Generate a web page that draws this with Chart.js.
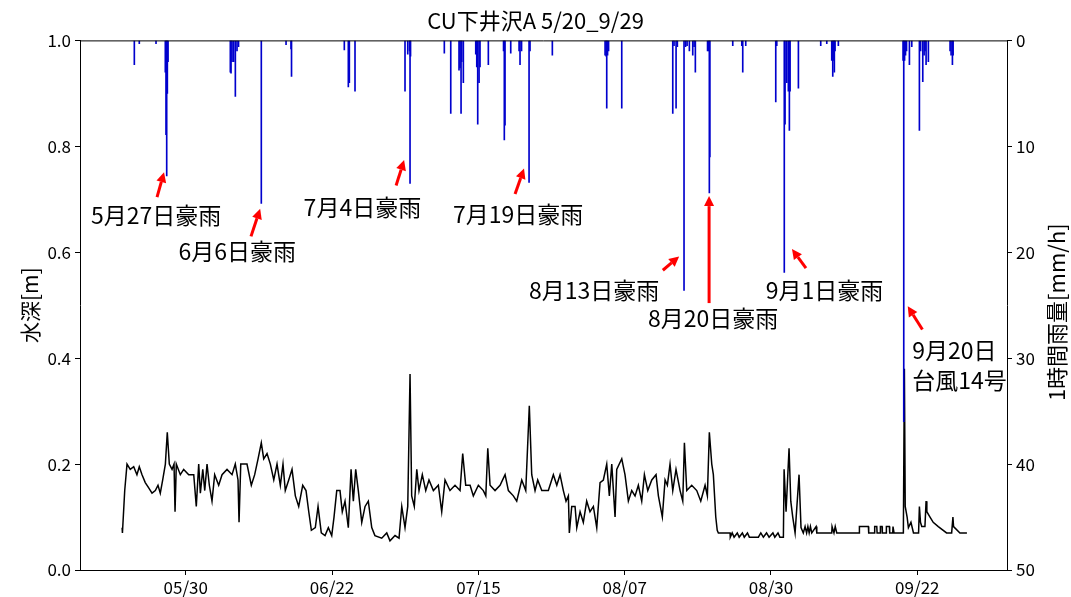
<!DOCTYPE html>
<html>
<head>
<meta charset="utf-8">
<script src="https://cdn.jsdelivr.net/npm/chart.js@4.4.0/dist/chart.umd.min.js"></script>
<style>
  body { margin: 0; background: #fff; }
  #wrap { width: 1071px; height: 597px; }
</style>
</head>
<body>
<div id="wrap"><canvas id="chart" width="1071" height="597"></canvas></div>
<script>
// days counted from 5/20 00:00
var tickDays = [10, 33, 56, 79, 102, 125];
var tickLabels = ['05/30', '06/22', '07/15', '08/07', '08/30', '09/22'];

// water depth [m]
var levelDays = [
    0.0, 0.05, 0.41, 0.77, 1.28, 1.82, 2.33, 2.7, 3.13, 3.64, 4.18, 4.7, 5.22, 5.64, 6.0, 6.38, 6.8, 7.1, 7.42, 7.85,
    8.16, 8.32, 8.52, 9.15, 9.68, 10.47, 11.26, 11.66, 12.04, 12.3, 12.68, 12.99, 13.35, 13.71, 14.13, 14.55, 15.18, 15.71, 16.49, 17.28,
    17.79, 18.22, 18.38, 18.65, 19.63, 20.31, 20.84, 21.37, 21.88, 22.26, 22.78, 23.3, 23.84, 24.35, 24.87, 25.29, 25.65, 26.19, 26.71, 27.23,
    27.76, 28.39, 28.91, 29.34, 29.75, 30.37, 30.8, 31.31,
    31.9, 32.42, 32.95, 33.31, 33.74, 34.25, 34.61, 35.04, 35.56, 35.99, 36.35, 36.72, 37.13, 37.67, 38.19, 38.7, 39.24, 39.74, 40.81, 41.6,
    42.11, 42.9, 43.53, 43.96, 44.47, 44.9, 45.26, 45.52, 45.93, 46.32, 46.67, 47.19, 47.73, 48.24, 48.93, 49.71, 50.24, 50.76, 51.54, 52.33,
    53.12, 53.54, 54.01, 54.7, 55.21, 56.0, 56.78, 57.17, 57.48, 57.84, 58.62, 59.41, 60.2, 60.72, 61.5, 62.03, 62.82, 63.45, 64.01, 64.39,
    64.91, 65.33, 65.97, 67.0,
    67.79, 68.33, 68.84, 69.36, 69.78, 70.15, 70.3, 70.68, 71.2, 71.47, 71.99, 72.5, 73.03, 73.55, 74.08, 74.61, 75.13, 75.65, 76.18, 76.59,
    76.97, 77.49, 77.75, 78.54, 79.05, 79.58, 80.11, 80.63, 81.15, 81.68, 82.1, 82.63, 83.26, 83.93, 84.3, 84.92, 85.35, 85.71, 86.13, 86.56,
    87.07, 87.71, 88.13, 88.39, 88.76, 89.54, 90.33, 90.96, 91.64, 92.0, 92.31, 92.69, 92.94, 93.32, 93.55, 93.73, 95.57, 95.6, 95.9, 96.2,
    96.7, 97.0, 97.5, 97.8, 98.3, 98.6, 100.02, 100.4, 100.8, 101.3, 101.7, 102.3, 102.6, 103.1, 103.4, 103.95,
    104.06, 104.37, 104.84, 105.11, 105.42, 105.79, 106.41, 106.72, 107.08, 107.36, 107.6, 107.8, 108.0, 108.2, 108.41, 109.09, 109.2, 111.55, 111.6, 111.9,
    112.1, 112.34, 115.85, 115.9, 117.31, 117.36, 118.25, 118.3, 118.63, 118.68, 119.15, 119.2, 119.46, 119.5, 120.09, 120.14, 120.61, 120.66, 121.14, 121.18,
    121.3, 121.34, 122.81, 122.97, 123.1, 123.4, 123.6, 124.0, 124.4, 125.2, 125.33, 125.5, 125.7, 126.2, 126.38, 126.5, 127.0, 127.5, 128.3, 129.6,
    130.4, 130.6, 130.7, 131.7, 132.8
];
var levelValues = [
    0.08, 0.07, 0.15, 0.20, 0.19, 0.195, 0.18, 0.195, 0.18, 0.165, 0.155, 0.145, 0.15, 0.16, 0.145, 0.17, 0.2, 0.26, 0.2, 0.19,
    0.2, 0.11, 0.2, 0.18, 0.19, 0.18, 0.18, 0.12, 0.2, 0.145, 0.19, 0.15, 0.2, 0.16, 0.13, 0.18, 0.16, 0.18, 0.19, 0.18,
    0.2, 0.17, 0.09, 0.2, 0.2, 0.16, 0.18, 0.21, 0.24, 0.21, 0.22, 0.2, 0.17, 0.2, 0.16, 0.2, 0.15, 0.17, 0.19, 0.14,
    0.12, 0.16, 0.15, 0.11, 0.075, 0.08, 0.12, 0.07,
    0.065, 0.08, 0.065, 0.1, 0.15, 0.15, 0.11, 0.13, 0.08, 0.19, 0.13, 0.19, 0.15, 0.09, 0.12, 0.13, 0.08, 0.065, 0.06, 0.07,
    0.055, 0.065, 0.06, 0.12, 0.08, 0.12, 0.37, 0.14, 0.12, 0.19, 0.15, 0.18, 0.15, 0.17, 0.15, 0.16, 0.11, 0.17, 0.15, 0.16,
    0.15, 0.22, 0.16, 0.16, 0.14, 0.16, 0.15, 0.14, 0.23, 0.16, 0.15, 0.16, 0.18, 0.15, 0.14, 0.13, 0.17, 0.15, 0.31, 0.18,
    0.15, 0.17, 0.15, 0.15,
    0.18, 0.16, 0.18, 0.15, 0.13, 0.14, 0.07, 0.12, 0.12, 0.08, 0.11, 0.09, 0.13, 0.11, 0.12, 0.08, 0.165, 0.17, 0.2, 0.14,
    0.2, 0.1, 0.19, 0.21, 0.18, 0.13, 0.15, 0.14, 0.16, 0.13, 0.18, 0.15, 0.17, 0.18, 0.14, 0.1, 0.17, 0.16, 0.2, 0.15,
    0.19, 0.15, 0.13, 0.24, 0.15, 0.16, 0.15, 0.13, 0.16, 0.14, 0.26, 0.2, 0.18, 0.1, 0.075, 0.07, 0.07, 0.062, 0.07, 0.062,
    0.07, 0.062, 0.07, 0.062, 0.07, 0.062, 0.062, 0.07, 0.062, 0.07, 0.062, 0.07, 0.062, 0.07, 0.062, 0.062,
    0.19, 0.11, 0.23, 0.13, 0.1, 0.07, 0.18, 0.08, 0.07, 0.082, 0.07, 0.082, 0.07, 0.082, 0.07, 0.082, 0.07, 0.07, 0.082, 0.07,
    0.082, 0.07, 0.07, 0.082, 0.082, 0.07, 0.07, 0.082, 0.082, 0.07, 0.07, 0.082, 0.082, 0.07, 0.07, 0.082, 0.082, 0.07, 0.07, 0.082,
    0.082, 0.07, 0.07, 0.38, 0.12, 0.1, 0.08, 0.09, 0.07, 0.07, 0.12, 0.09, 0.082, 0.082, 0.13, 0.11, 0.1, 0.09, 0.082, 0.07,
    0.07, 0.1, 0.082, 0.07, 0.07
];

// hourly rainfall [mm/h], non-zero hours only
var rainDays = [
    1.92, 2.7, 5.33, 6.79, 6.9, 7.01, 7.11, 7.22, 17.01, 17.12, 17.28, 17.54, 17.8, 18.06, 18.3, 21.88, 25.77, 26.55, 26.63,
    34.93, 35.56, 35.72, 36.61, 44.47, 44.9, 45.18, 45.26, 45.34, 50.65, 51.66, 52.96, 53.12, 53.28, 53.39, 53.64,
    55.59, 55.75, 55.9, 56.11, 56.26, 57.57, 59.96, 60.08, 60.19, 61.09, 62.4, 62.55, 62.79, 63.97, 64.12, 67.63,
    75.92, 76.08, 76.18, 76.31, 76.47, 78.54, 86.56, 86.76, 87.08, 87.28, 88.33, 88.57, 88.81, 89.17, 89.7, 89.91, 90.11,
    92.03, 92.19, 92.31, 92.39, 95.99, 97.41, 97.56, 98.03, 102.75, 102.91, 104.09, 104.21, 104.48, 104.73, 104.89, 105.0,
    106.31, 109.82, 110.77, 111.55, 111.71, 111.87, 111.96, 112.07, 112.59,
    122.76, 122.87, 123.0, 123.15, 123.31, 123.76, 124.13, 125.33, 125.52, 125.86, 126.07, 126.22, 126.38, 126.74,
    130.15, 130.31, 130.52, 130.63
];
var rainValues = [
    2.3, 0.3, 0.3, 3.0, 8.9, 12.8, 5.0, 2.0, 3.0, 3.1, 2.0, 2.0, 5.3, 1.0, 0.6, 15.4, 0.4, 0.8, 3.4,
    0.9, 4.4, 4.0, 4.8, 4.8, 1.3, 1.0, 13.5, 1.5, 1.2, 6.9, 2.8, 2.6, 6.9, 2.0, 4.0,
    1.3, 2.5, 7.9, 4.0, 2.5, 2.3, 1.0, 9.4, 8.0, 1.2, 1.0, 2.3, 1.0, 13.4, 1.0, 1.4,
    1.4, 1.5, 6.4, 1.4, 1.0, 6.4, 6.9, 0.5, 6.4, 0.6, 23.6, 0.6, 0.5, 1.0, 1.4, 0.6, 3.0,
    1.0, 1.0, 14.4, 11.0, 0.5, 0.5, 3.0, 0.5, 5.8, 0.5, 21.9, 7.9, 4.0, 4.8, 8.5, 4.8,
    4.5, 0.5, 0.3, 1.9, 3.4, 1.9, 3.0, 1.0, 0.5,
    1.9, 36.0, 1.9, 1.4, 1.0, 2.3, 0.6, 8.5, 1.0, 3.9, 1.4, 1.0, 2.3, 2.0,
    1.0, 1.4, 2.3, 1.4
];

// annotations: text lines, text anchor [day, mm], arrow tail and tip [day, mm]
var noteTexts = [['5月27日豪雨'], ['6月6日豪雨'], ['7月4日豪雨'], ['7月19日豪雨'],
    ['8月13日豪雨'], ['8月20日豪雨'], ['9月1日豪雨'], ['9月20日', '台風14号']];
var noteAt = [[5.35, 16.5], [18.1, 19.9], [37.77, 15.75], [62.25, 16.4],
    [74.2, 23.6], [92.9, 26.2], [110.4, 23.6], [124.2, 30.7]];
var noteTail = [[5.49, 14.8], [20.26, 18.5], [43.07, 13.7], [61.77, 14.5],
    [85.0, 21.7], [92.27, 24.8], [107.5, 21.5], [125.8, 27.3]];
var noteTip = [[6.59, 12.45], [21.7, 15.9], [44.33, 11.3], [63.18, 12.1],
    [87.56, 20.4], [92.27, 14.7], [105.3, 19.7], [123.5, 25.1]];
var noteAlign = ['center', 'center', 'center', 'center', 'center', 'center', 'center', 'left'];

var FONT = "'Noto Sans CJK JP', 'Noto Sans', sans-serif";
Chart.defaults.font.family = FONT;
Chart.defaults.color = '#000';

var notesPlugin = {
    id: 'notes',
    afterDatasetsDraw: function (chart) {
        var ctx = chart.ctx, area = chart.chartArea;
        var xs = chart.scales.x, ys = chart.scales.y1;
        ctx.save();
        // top spine
        ctx.strokeStyle = '#000';
        ctx.lineWidth = 1;
        ctx.beginPath();
        ctx.moveTo(area.left, area.top + 0.5);
        ctx.lineTo(area.right, area.top + 0.5);
        ctx.stroke();

        ctx.fillStyle = 'red';
        ctx.strokeStyle = 'red';
        for (var i = 0; i < noteTexts.length; i++) {
            var x0 = xs.getPixelForValue(noteTail[i][0]), y0 = ys.getPixelForValue(noteTail[i][1]);
            var x1 = xs.getPixelForValue(noteTip[i][0]), y1 = ys.getPixelForValue(noteTip[i][1]);
            var ang = Math.atan2(y1 - y0, x1 - x0);
            var hl = 10, hw = 5;
            var bx = x1 - hl * Math.cos(ang), by = y1 - hl * Math.sin(ang);
            ctx.lineWidth = 3;
            ctx.beginPath();
            ctx.moveTo(x0, y0);
            ctx.lineTo(bx, by);
            ctx.stroke();
            ctx.beginPath();
            ctx.moveTo(x1, y1);
            ctx.lineTo(bx + hw * Math.sin(ang), by - hw * Math.cos(ang));
            ctx.lineTo(bx - hw * Math.sin(ang), by + hw * Math.cos(ang));
            ctx.closePath();
            ctx.fill();
        }

        ctx.fillStyle = '#000';
        ctx.font = '23px ' + FONT;
        ctx.textBaseline = 'middle';
        for (var j = 0; j < noteTexts.length; j++) {
            var lines = noteTexts[j];
            var tx = xs.getPixelForValue(noteAt[j][0]), ty = ys.getPixelForValue(noteAt[j][1]);
            ctx.textAlign = noteAlign[j];
            var lh = 30;
            for (var k = 0; k < lines.length; k++) {
                ctx.fillText(lines[k], tx, ty + (k - (lines.length - 1) / 2) * lh);
            }
        }

        // right axis title, read bottom to top
        ctx.save();
        ctx.translate(1057, (area.top + area.bottom) / 2 + 7);
        ctx.rotate(-Math.PI / 2);
        ctx.textAlign = 'center';
        ctx.font = '22px ' + FONT;
        ctx.fillText('1時間雨量[mm/h]', 0, 0);
        ctx.restore();
        ctx.restore();
    }
};

var levelData = levelDays.map(function (d, i) { return { x: d, y: levelValues[i] }; });
var rainData = rainDays.map(function (d, i) { return { x: d, y: rainValues[i] }; });

var ctx = document.getElementById('chart').getContext('2d');
var chart = new Chart(ctx, {
    type: 'line',
    data: {
        datasets: [{
            type: 'bar',
            label: '1時間雨量',
            data: rainData,
            xAxisID: 'x',
            yAxisID: 'y1',
            backgroundColor: 'rgb(0, 0, 205)',
            borderWidth: 0,
            barThickness: 1,
            grouped: false,
            order: 0
        }, {
            type: 'line',
            label: '水深',
            data: levelData,
            xAxisID: 'x',
            yAxisID: 'y',
            borderColor: '#000',
            borderWidth: 1.5,
            pointRadius: 0,
            tension: 0,
            fill: false,
            order: 1
        }]
    },
    options: {
        responsive: false,
        devicePixelRatio: 1,
        animation: false,
        layout: { padding: 0 },
        plugins: {
            legend: { display: false },
            tooltip: { enabled: false },
            title: {
                display: true,
                text: 'CU下井沢A 5/20_9/29',
                font: { size: 22, weight: 'normal' },
                color: '#000',
                padding: { top: 7, bottom: 7 }
            }
        },
        scales: {
            x: {
                type: 'linear',
                offset: false,
                min: -6.62,
                max: 139.1,
                afterBuildTicks: function (s) { s.ticks = tickDays.map(function (v) { return { value: v }; }); },
                afterFit: function (s) { s.height = 27; },
                ticks: {
                    autoSkip: false,
                    maxRotation: 0,
                    padding: 2,
                    font: { size: 17 },
                    callback: function (v, i) { return tickLabels[i]; }
                },
                grid: { offset: false, drawOnChartArea: false, tickLength: 5, color: '#000' },
                border: { color: '#000' }
            },
            y: {
                position: 'left',
                min: 0,
                max: 1,
                afterFit: function (s) { s.width = 80; },
                ticks: { stepSize: 0.2, padding: 4, font: { size: 17 }, callback: function (v) { return v.toFixed(1); } },
                grid: { drawOnChartArea: false, tickLength: 5, color: '#000' },
                border: { color: '#000' },
                title: { display: true, text: '水深[m]', font: { size: 21 }, color: '#000', padding: { top: 17, bottom: 0 } }
            },
            y1: {
                position: 'right',
                reverse: true,
                min: 0,
                max: 50,
                afterFit: function (s) { s.width = 64; },
                ticks: { stepSize: 10, padding: 4, font: { size: 17 } },
                grid: { drawOnChartArea: false, tickLength: 5, color: '#000' },
                border: { color: '#000' }
            }
        }
    },
    plugins: [notesPlugin]
});
</script>
</body>
</html>
